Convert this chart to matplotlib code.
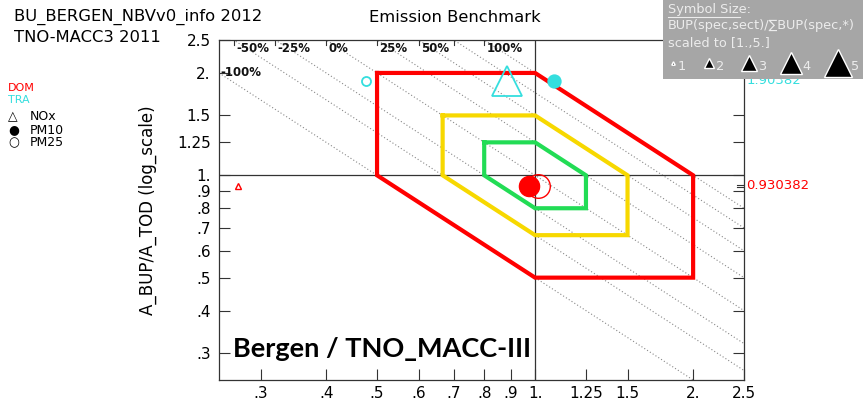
import matplotlib.pyplot as plt
import numpy as np

# Data
tick_vals = [.3, .4, .5, .6, .7, .8, .9, 1., 1.25, 1.5, 2., 2.5]
tick_labs = ['.3', '.4', '.5', '.6', '.7', '.8', '.9', '1.', '1.25', '1.5', '2.', '2.5']
hex_factors = [2.0, 1.5, 1.25]
hex_colors = ['#ff0000', '#f7d800', '#22dc55']
iso_vals = [0.5, 2/3, 0.8, 1.0, 1.25, 1.5, 1.75, 2.0]
iso_labels = ['-100%', '-50%', '-25%', '0%', '25%', '50%', '', '100%']

# sector points: x, y, marker, size, filled
dom_x = [0.272, 0.974, 1.013]
dom_y = [0.930382, 0.930382, 0.930382]
dom_mk = ['^', 'o', 'o']
dom_ms = [5, 14.5, 17]
dom_fill = [False, True, False]
tra_x = [0.884, 1.087, 0.476]
tra_y = [1.90, 1.90, 1.90]
tra_mk = ['^', 'o', 'o']
tra_ms = [22, 9, 6.5]
tra_fill = [False, True, False]

red = '#ff0000'
cyan = '#35dede'
xmin, xmax = 0.25, 2.5
ymin, ymax = 0.25, 2.5

W, H = 863, 408
fig = plt.figure(figsize=(W / 100, H / 100), dpi=100)
ax = fig.add_axes([219 / W, 1 - 380 / H, 525 / W, 340 / H])
ax.set_xscale('log')
ax.set_yscale('log')
ax.set_xlim(xmin, xmax)
ax.set_ylim(ymin, ymax)

# iso lines x*y = c (dotted)
xs = np.array([xmin, xmax])
for c in iso_vals:
    ax.plot(xs, c / xs, color='#888888', linestyle=(0, (1, 2)), linewidth=0.8, zorder=1)

# percent labels on the iso lines
for c, lab in zip(iso_vals, iso_labels):
    xt = c / ymax
    if xt >= xmin:
        ax.plot([xt, xt], [ymax, ymax / 1.035], color='#333333', linewidth=0.8, zorder=2)
        if lab:
            ax.text(xt * 1.01, ymax / 1.012, lab, fontsize=8.5, fontweight='bold',
                    ha='left', va='top', color='#111111')
    else:
        ax.text(xmin * 1.005, c / xmin, lab, fontsize=8.5, fontweight='bold',
                ha='left', va='center', color='#111111')

# benchmark hexagons
for f, col in zip(hex_factors, hex_colors):
    hx = [1 / f, 1, f, f, 1, 1 / f, 1 / f]
    hy = [f, f, 1, 1 / f, 1 / f, 1, f]
    ax.plot(hx, hy, color=col, linewidth=3, solid_joinstyle='miter', zorder=3)

ax.axhline(1, color='#333333', linewidth=0.9, zorder=2)
ax.axvline(1, color='#333333', linewidth=0.9, zorder=2)

for x, y, m, s, fl in zip(dom_x, dom_y, dom_mk, dom_ms, dom_fill):
    ax.plot(x, y, marker=m, markersize=s, color=red, markerfacecolor=red if fl else 'none',
            markeredgewidth=1.0, linestyle='none', zorder=4, clip_on=False)
for x, y, m, s, fl in zip(tra_x, tra_y, tra_mk, tra_ms, tra_fill):
    ax.plot(x, y, marker=m, markersize=s, color=cyan, markerfacecolor=cyan if fl else 'none',
            markeredgewidth=1.3, linestyle='none', zorder=4, clip_on=False)

ax.text(xmax * 1.01, dom_y[0], '%.6f' % dom_y[0], color=red, fontsize=9.5, ha='left', va='center')
# TRA value label, mostly hidden behind the symbol-size box as in the original
ax.text(xmax * 1.01, tra_y[0], '1.90382', color=cyan, fontsize=9.5, ha='left', va='center')
ax.plot([xmax / 1.03, xmax], [dom_y[0] * 1.004] * 2, color='#333333', linewidth=0.8)
ax.plot([xmax / 1.03, xmax], [dom_y[0] / 1.004] * 2, color='#333333', linewidth=0.8)

ax.set_xticks(tick_vals)
ax.set_xticklabels(tick_labs)
ax.set_yticks(tick_vals)
ax.set_yticklabels(tick_labs)
ax.minorticks_off()
ax.tick_params(axis='x', direction='in', length=8, pad=4, labelsize=11, color='#333333')
ax.tick_params(axis='y', direction='in', length=8, pad=6, labelsize=11, right=True, color='#333333')
for sp in ax.spines.values():
    sp.set_color('#333333')
    sp.set_linewidth(0.9)

ax.set_ylabel('A_BUP/A_TOD (log_scale)', fontsize=12)
ax.yaxis.set_label_coords(-0.118, 0.5)

ax.text(0.027, 0.09, 'Bergen / TNO_MACC-III', transform=ax.transAxes, fontsize=19.5,
        fontweight='bold', family='Lato', ha='left', va='center', color='black', zorder=5)

# titles
fig.text(14 / W, 1 - 17 / H, 'BU_BERGEN_NBVv0_info 2012', fontsize=11.8, va='center')
fig.text(14 / W, 1 - 37 / H, 'TNO-MACC3 2011', fontsize=11.8, va='center')
fig.text(455 / W, 1 - 17 / H, 'Emission Benchmark', fontsize=11.8, va='center', ha='center')

# left legend
fig.text(8 / W, 1 - 88 / H, 'DOM', color=red, fontsize=8, va='center')
fig.text(8 / W, 1 - 100 / H, 'TRA', color=cyan, fontsize=8, va='center')
for i, (sym, lab) in enumerate([('△', 'NOx'), ('●', 'PM10'), ('○', 'PM25')]):
    yy = 1 - (117 + 13 * i) / H
    fig.text(8 / W, yy, sym, fontsize=9, va='center')
    fig.text(30 / W, yy, lab, fontsize=9, va='center')

# symbol size box
bx = fig.add_axes([663 / W, 1 - 79 / H, (W - 663) / W, 79 / H])
bx.set_facecolor('#a6a6a6')
bx.set_xlim(0, 200)
bx.set_ylim(79, 0)
bx.set_xticks([])
bx.set_yticks([])
for sp in bx.spines.values():
    sp.set_visible(False)
tc = '#ececec'
bx.text(5, 9, 'Symbol Size:', color=tc, fontsize=9.3, va='center')
bx.plot([5, 77], [17, 17], color=tc, linewidth=0.8)
bx.text(5, 26, 'BUP(spec,sect)/\u2211BUP(spec,*)', color=tc, fontsize=9.3, va='center')
bx.text(5, 43, 'scaled to [1.,5.]', color=tc, fontsize=9.3, va='center')
sym_sizes = [1, 2, 3, 4, 5]
sym_x = [10, 46, 86, 128, 175]
for s, x in zip(sym_sizes, sym_x):
    bx.plot(x, 63, marker='^', markersize=2.5 + 4.5 * (s - 1), color='black',
            markeredgecolor='white', markeredgewidth=1.0, linestyle='none')
    bx.text(x + 3 + 2.0 * s, 67, str(s), color=tc, fontsize=9.3, va='center')

plt.savefig('out.png', dpi=100)
